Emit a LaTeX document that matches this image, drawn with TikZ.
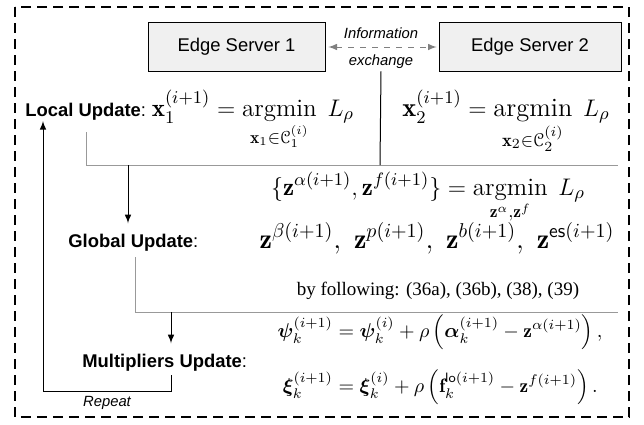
\documentclass[tikz,border=0pt]{standalone}
\usepackage{amsmath,amssymb,bm}
\usepackage[mathcal]{eucal}
\usepackage{fontspec}
\newfontfamily\arialfont{Liberation Sans}
\newfontfamily\timesfont{Liberation Serif}
\usetikzlibrary{arrows,shapes,positioning}
\usetikzlibrary{calc}
\tikzstyle{server} = [
  rectangle, draw, fill = gray!12, text centered, minimum height =
  24.5pt, font = \arialfont\fontsize{9.2}{11}\selectfont
]
\tikzstyle{stage} = [
  anchor = base west, inner sep = 0pt,
  font = \arialfont\fontsize{9.2}{11}\selectfont
]
\tikzstyle{note} = [
  inner sep = 1pt, font = \arialfont\itshape\fontsize{7.4}{9}\selectfont
]
\tikzstyle{eq} = [
  anchor = base, inner sep = 0pt, font = \fontsize{12.5}{15}\selectfont
]
\tikzstyle{guide} = [draw = gray!80, line width = 0.5pt]
\tikzstyle{flow} = [-latex, line width = 0.5pt]

\begin{document}
\begin{tikzpicture}[x=0.5pt, y=-0.5pt]
    \useasboundingbox (0,0) rectangle (644,424);
    \draw[line width=0.7pt, dash pattern=on 5pt off 3pt] (15,7) rectangle (629,417);

    \node[server, minimum width=88.5pt] (es1) at (236.5,47) {Edge Server 1};
    \node[server, minimum width=91pt] (es2) at (530,47) {Edge Server 2};
    \node[note] (info) at (381,33) {Information};
    \node[note] (exch) at (381,62) {exchange};
    \path[latex-latex, gray, dashed, line width=0.5pt] ([xshift=1.5pt] es1.east) edge ([xshift=-1pt] es2.west);

    % local update
    \node[stage] (local) at (25,116) {\textbf{Local Update}:};
    \node[eq, anchor=base west, xshift=2.5pt] (x1eq) at (local.base east)
      {$\displaystyle\mathbf{x}_1^{(i+1)} = \operatorname*{argmin}_{\mathbf{x}_1\in\mathcal{C}_1^{(i)}}\; L_{\rho}$};
    \node[eq, font=\fontsize{13.2}{15}\selectfont] (x2eq) at (506,116)
      {$\displaystyle\mathbf{x}_2^{(i+1)} = \operatorname*{argmin}_{\mathbf{x}_2\in\mathcal{C}_2^{(i)}}\; L_{\rho}$};
    \coordinate (locfoot) at (86,132);
    \coordinate (split) at (380,165);
    \coordinate (locend) at (618,165);
    \coordinate (gdrop) at (128,165);
    \draw[guide] (locfoot) |- (locend);
    \draw[line width=0.5pt] (exch.south) -- (split);

    % global update
    \node[eq] (zaf) at (428,195)
      {$\displaystyle\{\mathbf{z}^{\alpha(i+1)}, \mathbf{z}^{f(i+1)}\} = \operatorname*{argmin}_{\mathbf{z}^{\alpha},\mathbf{z}^{f}}\; L_{\rho}$};
    \node[stage] (global) at (68,247) {\textbf{Global Update}:};
    \node[eq, font=\fontsize{14}{16}\selectfont] (zrow) at (437,248)
      {$\mathbf{z}^{\beta(i+1)},\; \mathbf{z}^{p(i+1)},\; \mathbf{z}^{b(i+1)},\; \mathbf{z}^{\mathsf{es}(i+1)}$};
    \node[eq, font=\timesfont\fontsize{9.5}{11}\selectfont] (follow) at (438,295)
      {by following: (36a), (36b), (38), (39)};
    \draw[flow, shorten >=5pt] (gdrop) -- (gdrop |- global.north);
    \coordinate (glofoot) at (135,257);
    \coordinate (gloend) at (618,312);
    \coordinate (mdrop) at (171,312);
    \draw[guide] (glofoot) |- (gloend);

    % multipliers update
    \node[stage] (multi) at (82,367) {\textbf{Multipliers Update}:};
    \node[eq, anchor=center, font=\fontsize{9.7}{12}\selectfont] (mueq) at (440,360)
      {$\begin{aligned}
        \bm{\psi}_k^{(i+1)} &= \bm{\psi}_k^{(i)} + \rho\left(\bm{\alpha}_k^{(i+1)} - \mathbf{z}^{\alpha(i+1)}\right),\\[6pt]
        \bm{\xi}_k^{(i+1)} &= \bm{\xi}_k^{(i)} + \rho\left(\mathbf{f}_k^{\mathsf{lo}(i+1)} - \mathbf{z}^{f(i+1)}\right).
      \end{aligned}$};
    \draw[flow, shorten >=5pt] (mdrop) -- (mdrop |- multi.north);

    % repeat loop
    \coordinate (rstart) at (171,375);
    \coordinate (rcorner) at (43,391);
    \coordinate (rtop) at (43,121);
    \draw[flow] (rstart) |- (rcorner) -- (rtop);
    \node[note] (repeat) at (107,403) {Repeat};
\end{tikzpicture}
\end{document}
